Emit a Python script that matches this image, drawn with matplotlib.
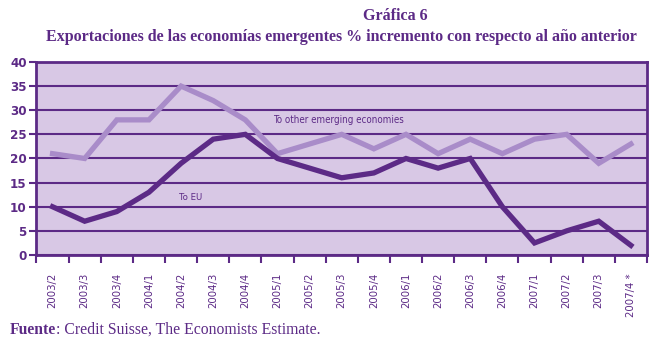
import matplotlib; matplotlib.use("Agg")
import matplotlib.pyplot as plt
import matplotlib.transforms as mtransforms
import numpy as np

quarters = ["2003/2", "2003/3", "2003/4", "2004/1", "2004/2", "2004/3", "2004/4",
            "2005/1", "2005/2", "2005/3", "2005/4", "2006/1", "2006/2", "2006/3",
            "2006/4", "2007/1", "2007/2", "2007/3", "2007/4 *"]
to_other = [21, 20, 28, 28, 35, 32, 28, 21, 23, 25, 22, 25, 21, 24, 21, 24, 25, 19, 23]
to_eu = [10, 7, 9, 13, 19, 24, 25, 20, 18, 16, 17, 20, 18, 20, 10, 2.5, 5, 7, 2]
y_ticks = [0, 5, 10, 15, 20, 25, 30, 35, 40]

PURPLE = "#5c2a86"
LIGHT = "#a98cc9"
BG = "#d8c8e5"
narrow = dict(family=["DejaVu Sans"], fontstretch="condensed")
serif = ["Liberation Serif", "DejaVu Serif"]

fig = plt.figure(figsize=(6.55, 3.5), dpi=100)
ax = fig.add_axes([0.0557, 0.2714, 0.932, 0.5516])
ax.set_facecolor(BG)

x = np.arange(len(quarters))
ax.plot(x, to_other, color=LIGHT, lw=3.8, solid_joinstyle="miter", zorder=3)
ax.plot(x, to_eu, color=PURPLE, lw=3.8, solid_joinstyle="miter", zorder=4)

ax.set_xlim(-0.5, len(quarters) - 0.5)
ax.set_ylim(0, 40)
ax.set_yticks(y_ticks)
ax.set_yticklabels([str(v) for v in y_ticks], fontsize=9.5, fontweight="bold",
                   color=PURPLE, **narrow)
ax.grid(axis="y", color=PURPLE, lw=1.5, zorder=1)
ax.set_axisbelow(True)

# tick marks on category boundaries, labels in the middle
ax.set_xticks(np.arange(-0.5, len(quarters)), minor=True)
ax.set_xticks(x)
ax.set_xticklabels(quarters, rotation=90, fontsize=8.1, color=PURPLE,
                   va="top", ha="center", **narrow)
shift = mtransforms.ScaledTranslation(-9 / 100, 0, fig.dpi_scale_trans)
for lab in ax.get_xticklabels():
    lab.set_transform(lab.get_transform() + shift)
ax.tick_params(axis="x", which="major", length=0, pad=13)
ax.tick_params(axis="x", which="minor", length=6, width=1.5, color=PURPLE, direction="out")
ax.tick_params(axis="y", length=5, width=1.5, color=PURPLE, direction="out", pad=2)

for s in ax.spines.values():
    s.set_color(PURPLE)
    s.set_linewidth(2)

ax.text(6.85, 28, "To other emerging economies", fontsize=7, color=PURPLE,
        va="center", **narrow)
ax.text(3.93, 12, "To EU", fontsize=6.8, color=PURPLE, va="center", **narrow)

fig.text(0.603, 0.955, "Gráfica 6", family=serif, fontsize=11.5, fontweight="bold",
         color=PURPLE, ha="center", va="center")
fig.text(0.522, 0.893, "Exportaciones de las economías emergentes % incremento con respecto al año anterior",
         family=serif, fontsize=11.5, fontweight="bold", color=PURPLE, ha="center", va="center")

# footer: bold "Fuente" followed by regular text
src = fig.text(0.015, 0.057, "Fuente", family=serif, fontsize=11.3, fontweight="bold",
               color=PURPLE, va="center")
fig.canvas.draw()
bb = src.get_window_extent()
fig.text(bb.x1 / fig.bbox.width, 0.057, ": Credit Suisse, The Economists Estimate.",
         family=serif, fontsize=11.3, color=PURPLE, va="center")

fig.savefig("out.png", dpi=100, facecolor="white")
